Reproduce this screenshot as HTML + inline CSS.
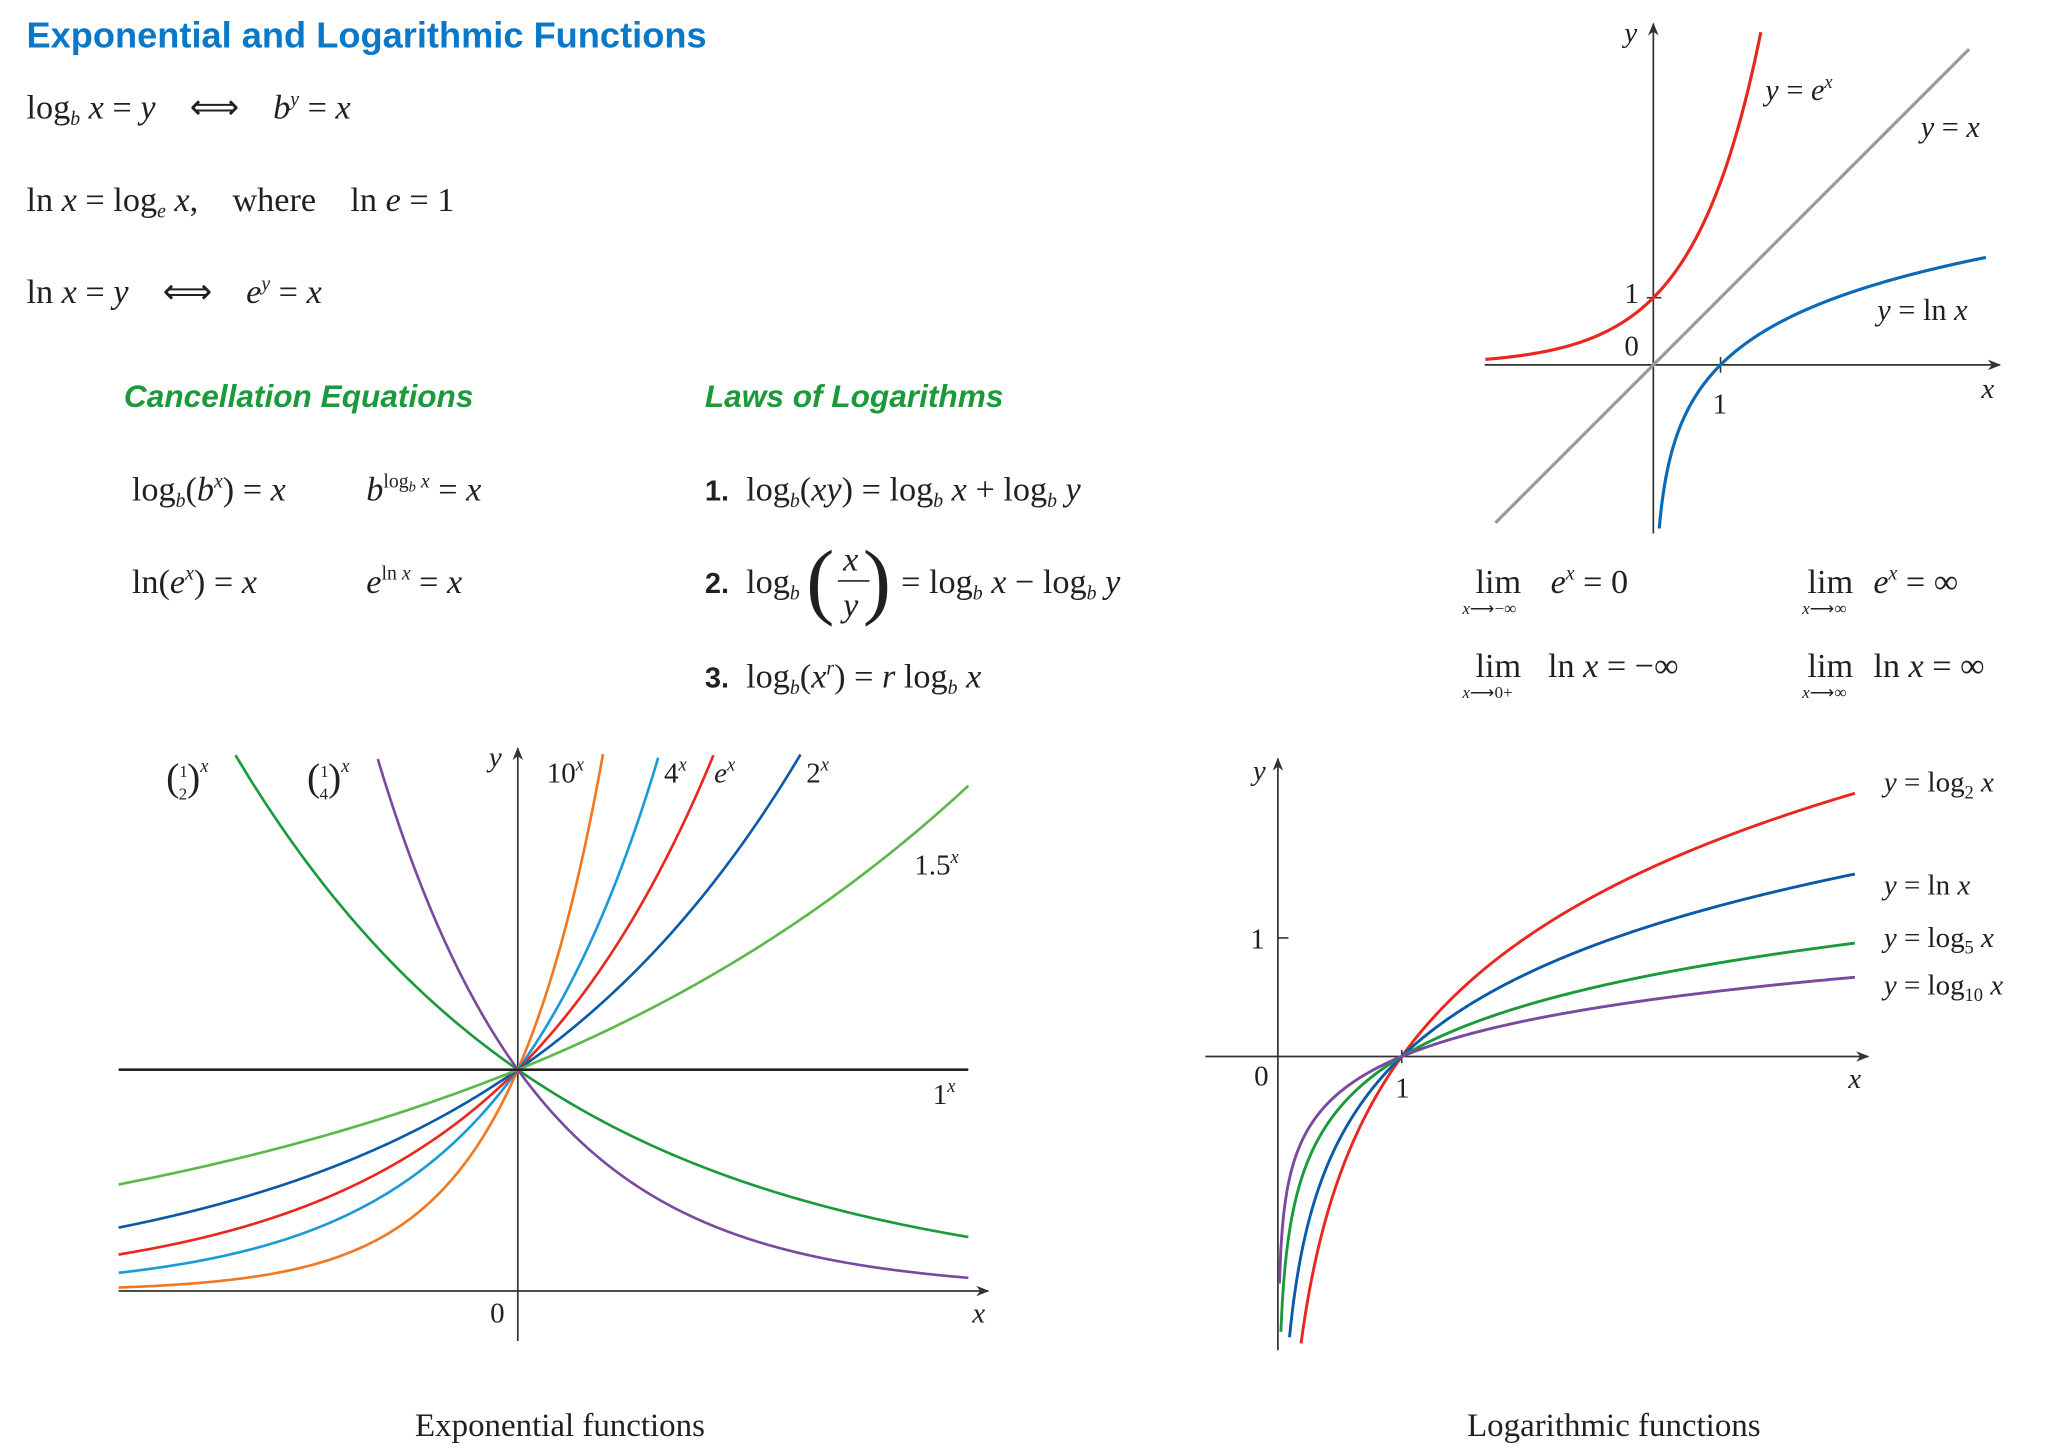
<!DOCTYPE html>
<html><head><meta charset="utf-8"><style>
html,body{margin:0;padding:0;background:#fff}
svg{display:block}
text{white-space:pre}
.s{font-family:"Liberation Serif",serif;fill:#231f20}
.i{font-style:italic}
</style></head><body>
<svg id="svg" width="2046" height="1453" viewBox="0 0 1553 1103" xmlns="http://www.w3.org/2000/svg">
<defs><marker id="ar" markerWidth="10" markerHeight="8" refX="9" refY="4" orient="auto" markerUnits="userSpaceOnUse"><path d="M0,0 L10,4 L0,8 L3,4 Z" fill="#333"/></marker></defs>
<text x="20" y="36" font-family="Liberation Sans, sans-serif" font-weight="bold" font-size="27.5" fill="#0a78c8">Exponential and Logarithmic Functions</text>
<g class="s" font-size="26">
<text x="20" y="90">log<tspan class="i" font-size="15" dy="5">b</tspan><tspan class="i" dy="-5"> x</tspan> = <tspan class="i">y</tspan>    ⟺    <tspan class="i">b</tspan><tspan class="i" font-size="15" dy="-10">y</tspan><tspan dy="10"> = </tspan><tspan class="i">x</tspan></text>
<text x="20" y="160">ln <tspan class="i">x</tspan> = log<tspan class="i" font-size="15" dy="5">e</tspan><tspan class="i" dy="-5"> x</tspan>,    where    ln <tspan class="i">e</tspan> = 1</text>
<text x="20" y="230">ln <tspan class="i">x</tspan> = <tspan class="i">y</tspan>    ⟺    <tspan class="i">e</tspan><tspan class="i" font-size="15" dy="-10">y</tspan><tspan dy="10"> = </tspan><tspan class="i">x</tspan></text>
</g>
<text x="94" y="309" font-family="Liberation Sans, sans-serif" font-weight="bold" font-style="italic" font-size="24" fill="#1a9a3a">Cancellation Equations</text>
<text x="535" y="309" font-family="Liberation Sans, sans-serif" font-weight="bold" font-style="italic" font-size="24" fill="#1a9a3a">Laws of Logarithms</text>
<g class="s" font-size="26">
<text x="100" y="380">log<tspan font-size="15" class="i" dy="5">b</tspan><tspan dy="-5">(</tspan><tspan class="i">b</tspan><tspan class="i" font-size="15" dy="-10">x</tspan><tspan dy="10">) = </tspan><tspan class="i">x</tspan></text>
<text x="278" y="380"><tspan class="i">b</tspan><tspan font-size="15" dy="-10">log</tspan><tspan class="i" font-size="11" dy="3">b</tspan><tspan class="i" font-size="15" dy="-3"> x</tspan><tspan dy="10"> = </tspan><tspan class="i">x</tspan></text>
<text x="100" y="450">ln(<tspan class="i">e</tspan><tspan class="i" font-size="15" dy="-10">x</tspan><tspan dy="10">) = </tspan><tspan class="i">x</tspan></text>
<text x="278" y="450"><tspan class="i">e</tspan><tspan font-size="15" dy="-10">ln </tspan><tspan class="i" font-size="15">x</tspan><tspan dy="10"> = </tspan><tspan class="i">x</tspan></text>
</g>
<g class="s" font-size="26">
<text x="535" y="380"><tspan font-family="Liberation Sans, sans-serif" font-weight="bold" font-size="22">1.</tspan>  log<tspan font-size="15" class="i" dy="5">b</tspan><tspan dy="-5">(</tspan><tspan class="i">xy</tspan>) = log<tspan font-size="15" class="i" dy="5">b</tspan><tspan class="i" dy="-5"> x</tspan> + log<tspan font-size="15" class="i" dy="5">b</tspan><tspan class="i" dy="-5"> y</tspan></text>
<text x="535" y="450"><tspan font-family="Liberation Sans, sans-serif" font-weight="bold" font-size="22">2.</tspan>  log<tspan font-size="15" class="i" dy="5">b</tspan></text>
<text x="612" y="462" font-size="64" font-weight="100">(</text>
<text x="640" y="433" class="i">x</text><line x1="636" y1="441" x2="660" y2="441" stroke="#231f20" stroke-width="1.3"/><text x="640" y="468" class="i">y</text>
<text x="655" y="462" font-size="64" font-weight="100">)</text>
<text x="684" y="450">= log<tspan font-size="15" class="i" dy="5">b</tspan><tspan class="i" dy="-5"> x</tspan> − log<tspan font-size="15" class="i" dy="5">b</tspan><tspan class="i" dy="-5"> y</tspan></text>
<text x="535" y="522"><tspan font-family="Liberation Sans, sans-serif" font-weight="bold" font-size="22">3.</tspan>  log<tspan font-size="15" class="i" dy="5">b</tspan><tspan dy="-5">(</tspan><tspan class="i">x</tspan><tspan class="i" font-size="15" dy="-10">r</tspan><tspan dy="10">) = </tspan><tspan class="i">r</tspan> log<tspan font-size="15" class="i" dy="5">b</tspan><tspan class="i" dy="-5"> x</tspan></text>
</g>
<g class="s" font-size="26">
<text x="1120" y="450">lim</text><text x="1110" y="466" font-size="13"><tspan class="i">x</tspan>⟶−∞</text><text x="1177" y="450"><tspan class="i">e</tspan><tspan class="i" font-size="15" dy="-10">x</tspan><tspan dy="10"> = 0</tspan></text>
<text x="1372" y="450">lim</text><text x="1368" y="466" font-size="13"><tspan class="i">x</tspan>⟶∞</text><text x="1422" y="450"><tspan class="i">e</tspan><tspan class="i" font-size="15" dy="-10">x</tspan><tspan dy="10"> = ∞</tspan></text>
<text x="1120" y="514">lim</text><text x="1110" y="530" font-size="13"><tspan class="i">x</tspan>⟶0+</text><text x="1175" y="514">ln <tspan class="i">x</tspan> = −∞</text>
<text x="1372" y="514">lim</text><text x="1368" y="530" font-size="13"><tspan class="i">x</tspan>⟶∞</text><text x="1422" y="514">ln <tspan class="i">x</tspan> = ∞</text>
</g>
<g id="topChart"></g>
<g id="expChart"></g>
<g id="logChart"></g>
</svg>
<script>
// ---- data ----
const topFuncs = ["exp", "identity", "ln"];
const topColors = ["#e8281e", "#999999", "#0a6ab8"];
const expBases = [0.5, 0.25, 10, 4, Math.E, 2, 1.5, 1];
const expColors = ["#1a9a3a", "#7a4aa0", "#f07820", "#1a9ad6", "#e8281e", "#0a5aa8", "#5cb84a", "#231f20"];
const logBases = [2, Math.E, 5, 10];
const logColors = ["#e8281e", "#0a5aa8", "#1a9a3a", "#7a4aa0"];

const NS = "http://www.w3.org/2000/svg";
function mk(parent, tag, attrs, txt) {
  const e = document.createElementNS(NS, tag);
  for (const k in attrs) e.setAttribute(k, attrs[k]);
  if (txt !== undefined) e.textContent = txt;
  parent.appendChild(e); return e;
}
function pathFrom(f, x0, x1, sx, sy, ymin, ymax) {
  let d = "", started = false;
  for (let i = 0; i <= 400; i++) {
    const x = x0 + (x1 - x0) * i / 400, y = f(x);
    if (!isFinite(y) || y < ymin || y > ymax) { started = false; continue; }
    d += (started ? "L" : "M") + sx(x).toFixed(2) + "," + sy(y).toFixed(2);
    started = true;
  }
  return d;
}
function label(g, x, y, html, size, color, name) {
  const t = mk(g, "text", {x: x, y: y, class: "s", "font-size": size, fill: color || "#231f20"});
  
  
  t.innerHTML = html; return t;
}

// ---- top chart ----
(function () {
  const g = document.getElementById("topChart");
  const ox = 1255, oy = 277, u = 51;
  const sx = x => ox + x * u, sy = y => oy - y * u;
  const ax = mk(g, "line", {x1: 1127, y1: oy, x2: 1518, y2: oy, stroke: "#333", "stroke-width": 1.3, "marker-end": "url(#ar)"});
   
  const ay = mk(g, "line", {x1: ox, y1: 405, x2: ox, y2: 18, stroke: "#333", "stroke-width": 1.3, "marker-end": "url(#ar)"});
   
  mk(g, "line", {x1: ox - 5, y1: sy(1), x2: ox + 6, y2: sy(1), stroke: "#333", "stroke-width": 1.2});
  mk(g, "line", {x1: sx(1), y1: oy - 6, x2: sx(1), y2: oy + 6, stroke: "#333", "stroke-width": 1.2});
  const fns = {exp: Math.exp, identity: x => x, ln: Math.log};
  const ranges = {exp: [-2.5, 1.6], identity: [-2.35, 4.7], ln: [0.001, 4.95]};
  topFuncs.forEach((k, i) => {
    const p = mk(g, "path", {d: pathFrom(fns[k], ranges[k][0], ranges[k][1], sx, sy, -2.5, 5), fill: "none", stroke: topColors[i], "stroke-width": 2.4});
    
    
  });
  label(g, 1340, 76, '<tspan class="i">y</tspan> = <tspan class="i">e</tspan><tspan class="i" font-size="14" dy="-9">x</tspan>', 23, null, 'label-y-ex');
  label(g, 1458, 104, '<tspan class="i">y</tspan> = <tspan class="i">x</tspan>', 23, null, 'label-y-x');
  label(g, 1425, 243, '<tspan class="i">y</tspan> = ln <tspan class="i">x</tspan>', 23, null, 'label-y-lnx');
  label(g, 1233, 230, '1', 22, null, 'y-tick-1');
  label(g, 1233, 270, '0', 22, null, 'origin-label');
  label(g, 1300, 314, '1', 22, null, 'x-tick-1');
  label(g, 1504, 302, '<tspan class="i">x</tspan>', 22, null, 'x-axis-title');
  label(g, 1233, 32, '<tspan class="i">y</tspan>', 22, null, 'y-axis-title');
})();

// ---- exponential chart ----
(function () {
  const g = document.getElementById("expChart");
  const ox = 393, oy = 980, u = 168;
  const sx = x => ox + x * u, sy = y => oy - y * u;
  const ax = mk(g, "line", {x1: 90, y1: oy, x2: 750, y2: oy, stroke: "#333", "stroke-width": 1.3, "marker-end": "url(#ar)"});
   
  const ay = mk(g, "line", {x1: ox, y1: 1018, x2: ox, y2: 568, stroke: "#333", "stroke-width": 1.3, "marker-end": "url(#ar)"});
   
  const ymax = (oy - 572) / u;
  expBases.forEach((b, i) => {
    const p = mk(g, "path", {d: pathFrom(x => Math.pow(b, x), (90 - ox) / u, (735 - ox) / u, sx, sy, 0, ymax), fill: "none", stroke: expColors[i], "stroke-width": 2});
    
    
  });
  label(g, 126, 600, '<tspan font-size="30">(</tspan><tspan font-size="13" dy="-10">1</tspan><tspan font-size="13" dx="-7" dy="17">2</tspan><tspan font-size="30" dy="-7">)</tspan><tspan class="i" font-size="14" dy="-14">x</tspan>', 22, null, 'label-half-x');
  label(g, 233, 600, '<tspan font-size="30">(</tspan><tspan font-size="13" dy="-10">1</tspan><tspan font-size="13" dx="-7" dy="17">4</tspan><tspan font-size="30" dy="-7">)</tspan><tspan class="i" font-size="14" dy="-14">x</tspan>', 22, null, 'label-quarter-x');
  label(g, 415, 594, '10<tspan class="i" font-size="14" dy="-9">x</tspan>', 22, null, 'label-10x');
  label(g, 504, 594, '4<tspan class="i" font-size="14" dy="-9">x</tspan>', 22, null, 'label-4x');
  label(g, 542, 594, '<tspan class="i">e</tspan><tspan class="i" font-size="14" dy="-9">x</tspan>', 22, "#e8281e", 'label-ex');
  label(g, 612, 594, '2<tspan class="i" font-size="14" dy="-9">x</tspan>', 22, null, 'label-2x');
  label(g, 694, 664, '1.5<tspan class="i" font-size="14" dy="-9">x</tspan>', 22, null, 'label-1-5x');
  label(g, 708, 838, '1<tspan class="i" font-size="14" dy="-9">x</tspan>', 22, null, 'label-1x');
  label(g, 371, 582, '<tspan class="i">y</tspan>', 22, null, 'y-axis-title');
  label(g, 372, 1004, '0', 22, null, 'origin-label');
  label(g, 738, 1004, '<tspan class="i">x</tspan>', 22, null, 'x-axis-title');
  const c = label(g, 425, 1090, 'Exponential functions', 25, null, 'caption');
  c.setAttribute("text-anchor", "middle");
})();

// ---- logarithmic chart ----
(function () {
  const g = document.getElementById("logChart");
  const ox = 970, oy = 802, ux = 94, uy = 90;
  const sx = x => ox + x * ux, sy = y => oy - y * uy;
  const ax = mk(g, "line", {x1: 915, y1: oy, x2: 1418, y2: oy, stroke: "#333", "stroke-width": 1.3, "marker-end": "url(#ar)"});
   
  const ay = mk(g, "line", {x1: ox, y1: 1025, x2: ox, y2: 576, stroke: "#333", "stroke-width": 1.3, "marker-end": "url(#ar)"});
   
  mk(g, "line", {x1: ox, y1: sy(1), x2: ox + 8, y2: sy(1), stroke: "#333", "stroke-width": 1.2});
  mk(g, "line", {x1: sx(1), y1: oy - 5, x2: sx(1), y2: oy + 5, stroke: "#333", "stroke-width": 1.2});
  const ymin = (oy - 1025) / uy;
  logBases.forEach((b, i) => {
    const p = mk(g, "path", {d: pathFrom(x => Math.log(x) / Math.log(b), 0.0005, (1408 - ox) / ux, sx, sy, ymin, 5), fill: "none", stroke: logColors[i], "stroke-width": 2.2});
    
    
  });
  label(g, 1430, 601, '<tspan class="i">y</tspan> = log<tspan font-size="14" dy="5">2</tspan><tspan class="i" dy="-5"> x</tspan>', 22, null, 'label-log2');
  label(g, 1430, 679, '<tspan class="i">y</tspan> = ln <tspan class="i">x</tspan>', 22, "#0a6ab8", 'label-ln');
  label(g, 1430, 719, '<tspan class="i">y</tspan> = log<tspan font-size="14" dy="5">5</tspan><tspan class="i" dy="-5"> x</tspan>', 22, null, 'label-log5');
  label(g, 1430, 755, '<tspan class="i">y</tspan> = log<tspan font-size="14" dy="5">10</tspan><tspan class="i" dy="-5"> x</tspan>', 22, null, 'label-log10');
  label(g, 949, 720, '1', 22, null, 'y-tick-1');
  label(g, 952, 824, '0', 22, null, 'origin-label');
  label(g, 1059, 833, '1', 22, null, 'x-tick-1');
  label(g, 1403, 826, '<tspan class="i">x</tspan>', 22, null, 'x-axis-title');
  label(g, 951, 592, '<tspan class="i">y</tspan>', 22, null, 'y-axis-title');
  const c = label(g, 1225, 1090, 'Logarithmic functions', 25, null, 'caption');
  c.setAttribute("text-anchor", "middle");
})();
</script>
</body></html>
